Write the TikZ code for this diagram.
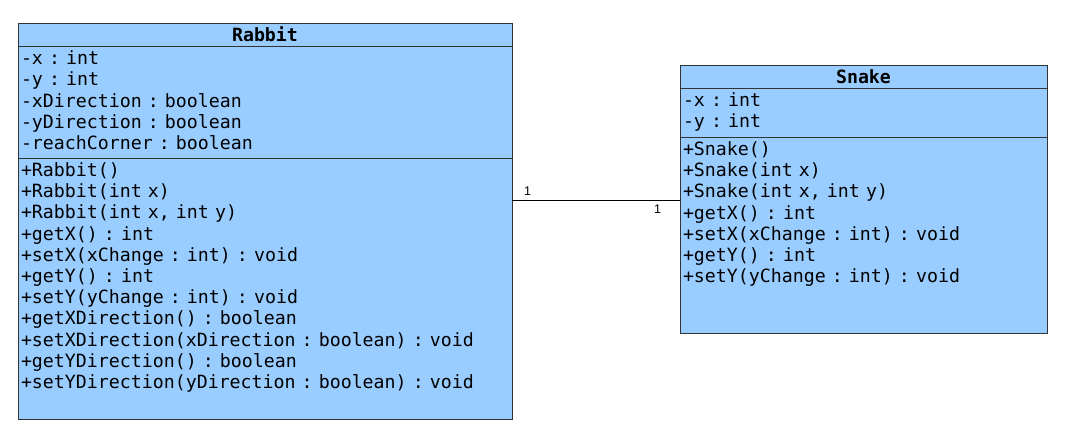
\documentclass[tikz,border=0pt]{standalone}
\usepackage{fontspec}
\setmainfont{Liberation Sans}
\setmonofont[WordSpace={1,0,0}]{DejaVu Sans Mono}
\usetikzlibrary{positioning}
\definecolor{classblue}{HTML}{99CCFF}
\definecolor{classline}{HTML}{333333}
\newcommand\umlmono{\ttfamily\fontsize{18.25}{21.2}\selectfont\frenchspacing
  \fontdimen2\font=10.99pt\fontdimen3\font=0pt\fontdimen4\font=0pt\relax
  \spaceskip=10.99pt plus 0pt minus 0pt\relax\xspaceskip=\spaceskip}

\begin{document}
\begin{tikzpicture}[
      x=1pt, y=-1pt, outer sep=0pt,
      part/.style={draw=classline, fill=classblue, line width=1pt,
                   anchor=north west, align=left, inner xsep=3pt, inner ysep=2.8pt,
                   font=\umlmono, execute at begin node=\strut},
      head/.style={draw=classline, fill=classblue, line width=1pt,
                   anchor=north west, align=center, inner sep=0pt,
                   minimum height=23pt, text height=17.3pt, text depth=5.7pt,
                   font=\umlmono\bfseries},
      mult/.style={font=\fontsize{12.5}{14}\selectfont, inner sep=1pt}]
    \path[fill=white] (0,0) rectangle (1066,436);
    % Rabbit class (head, fields, methods)
    \node[head, minimum width=494pt] (rabbit-head) at (18,24) {Rabbit};
    \node[part, text width=488pt, text depth=91.5pt] (rabbit-attr) at (rabbit-head.south west)
      {-x : int\\-y : int\\-xDirection : boolean\\-yDirection : boolean\\-reachCorner : boolean};
    \node[part, text width=488pt, text depth=240.5pt] (rabbit-meth) at (rabbit-attr.south west)
      {+Rabbit()\\+Rabbit(int x)\\+Rabbit(int x, int y)\\+getX() : int\\+setX(xChange : int) : void\\
       +getY() : int\\+setY(yChange : int) : void\\+getXDirection() : boolean\\
       +setXDirection(xDirection : boolean) : void\\+getYDirection() : boolean\\
       +setYDirection(yDirection : boolean) : void};
    % Snake class
    \node[head, minimum width=367pt] (snake-head) at (680,66) {Snake};
    \node[part, text width=361pt, text depth=28.5pt] (snake-attr) at (snake-head.south west)
      {-x : int\\-y : int};
    \node[part, text width=361pt, text depth=175.5pt] (snake-meth) at (snake-attr.south west)
      {+Snake()\\+Snake(int x)\\+Snake(int x, int y)\\+getX() : int\\+setX(xChange : int) : void\\
       +getY() : int\\+setY(yChange : int) : void};
    % association 1 -- 1
    \coordinate (link) at (0,200);
    \draw[line width=1pt] (rabbit-meth.east |- link) -- (snake-meth.west |- link)
      node[mult, pos=0, anchor=south west, xshift=11pt, yshift=4pt] {1}
      node[mult, pos=1, anchor=north east, xshift=-18pt, yshift=-4pt] {1};
\end{tikzpicture}
\end{document}
